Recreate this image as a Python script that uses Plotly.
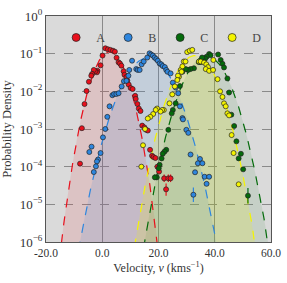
import numpy as np
import plotly.graph_objects as go

# ---------------- data ----------------
series_names = ["A", "B", "C", "D"]

a_v = [1.1, 2.0, 2.9, 3.8, 4.5, 0.1, 5.1, 5.8, 6.3, 6.8, 7.6, 7.9, 8.6, 8.9, 9.4, 10.1, 10.8, 11.7,
       11.9, 12.5, 13.0, 13.6, 14.2, 15.0, 15.6, 16.2, 17.0, 17.7, 18.2, 18.9, 19.6, 20.2, 22.0, 23.5,
       24.3, 22.7, -0.6, -1.7, -1.9, -2.5, -3.0, -3.6, -3.9, -4.75, -5.6, -6.3, -7.25, -7.9]
a_p = [0.139, 0.131, 0.126, 0.120, 0.113, 0.089, 0.078, 0.059, 0.055, 0.048, 0.034, 0.0275, 0.024,
       0.0195, 0.0151, 0.0123, 0.0115, 0.0076, 0.0063, 0.0046, 0.0035, 0.0030, 1.23e-3, 1.10e-3,
       9.5e-4, 9.1e-4, 2.8e-4, 1.95e-4, 1.8e-4, 1.7e-4, 1.0e-4, 7.4e-5, 4.9e-5, 4.9e-5, 4.9e-5,
       2.5e-5, 0.049, 0.035, 0.032, 0.034, 0.037, 0.029, 0.026, 0.018, 0.0102, 0.0046, 1.05e-3, 1.2e-4]
a_err_up = [0] * 32 + [1.3e-5, 1.3e-5, 1.3e-5, 1.1e-5] + [0] * 12
a_err_dn = [0] * 32 + [1.0e-5, 1.0e-5, 1.0e-5, 0.8e-5] + [0] * 12

b_v = [1.07, 0.25, -3.8, -4.6, -0.6, -1.5, -1.9, -2.25, -3.0, 1.8, 2.6, 3.6, 4.2, 5.0, 5.8, 6.9, 7.7,
       8.6, 9.3, 9.6, 10.6, 12.1, 12.6, 13.3, 14.0, 14.75, 16.0, 16.8, 17.4, 18.0, 18.6, 19.2, 19.75,
       20.4, 21.0, 21.5, 22.25, 22.75, 23.2, 24.3, 25.1, 26.1, 27.0, 27.6, 28.5, 28.7, 29.9, 30.6,
       31.4, 34.75, 34.0, 35.6, 33.0, 36.4, 38.0, 37.1, 32.4]
b_p = [1.0e-3, 6.0e-4, 3.4e-4, 2.45e-4, 2.3e-4, 1.55e-4, 1.38e-4, 1.02e-4, 7.2e-5, 2.1e-3, 4.0e-3,
       7.9e-3, 8.5e-3, 8.5e-3, 8.9e-3, 0.0135, 0.0186, 0.019, 0.026, 0.037, 0.065, 0.039, 0.037, 0.037,
       0.052, 0.062, 0.079, 0.102, 0.095, 0.089, 0.079, 0.072, 0.065, 0.055, 0.052, 0.047, 0.044, 0.037,
       0.033, 0.030, 0.017, 0.0126, 0.0089, 0.0040, 1.95e-3, 1.8e-3, 9.5e-4, 7.9e-4, 2.1e-4, 1.6e-4,
       1.23e-4, 1.23e-4, 7.1e-5, 5.4e-5, 5.4e-5, 3.5e-5, 1.8e-5]
b_err_up = [0] * 56 + [1.0e-5]
b_err_dn = [0] * 56 + [0.65e-5]

c_v = [38.0, 38.5, 37.1, 36.6, 36.0, 35.0, 34.3, 35.5, 41.2, 42.1, 42.75, 43.3, 44.5, 45.1, 45.9, 46.9,
       47.7, 49.3, 48.5, 50.1, 51.8, 32.6, 31.4, 30.5, 29.7, 28.5, 27.6, 26.1, 25.1, 24.7, 23.5, 22.75,
       22.1, 21.5, 21.1, 20.4, 20.1, 19.4, 18.7]
c_p = [0.098, 0.091, 0.083, 0.074, 0.065, 0.060, 0.060, 0.079, 0.095, 0.068, 0.054, 0.043, 0.022,
       0.0093, 0.0024, 0.0012, 4.7e-4, 2.2e-4, 1.66e-4, 8.5e-5, 1.7e-5, 0.041, 0.039, 0.037, 0.039,
       0.033, 0.0138, 0.0048, 0.0032, 0.0026, 9.5e-4, 2.8e-4, 2.5e-4, 2.2e-4, 1.66e-4, 1.12e-4, 9.1e-5,
       5.2e-5, 5.2e-5]
c_err_up = [0] * 20 + [1.0e-5] + [0] * 16 + [1.0e-5, 1.0e-5]
c_err_dn = [0] * 20 + [0.65e-5] + [0] * 16 + [0.8e-5, 0.8e-5]

d_v = [30.2, 31.1, 32.0, 29.0, 29.6, 27.9, 28.5, 28.2, 27.3, 26.9, 26.7, 34.4, 35.0, 36.2, 37.0, 37.6,
       36.8, 38.0, 39.4, 39.5, 41.0, 41.9, 42.75, 43.3, 43.9, 44.5, 45.1, 46.0, 46.7, 48.5, 25.8, 24.9,
       23.9, 21.9, 21.3, 20.7, 19.5, 19.0, 18.1, 17.1, 16.2, 15.2, 14.5, 13.9]
d_p = [0.110, 0.120, 0.126, 0.062, 0.062, 0.037, 0.046, 0.033, 0.0245, 0.026, 0.020, 0.062, 0.062,
       0.058, 0.052, 0.044, 0.039, 0.035, 0.037, 0.068, 0.021, 0.010, 0.0071, 0.0048, 0.0040, 0.0026,
       0.0023, 6.9e-4, 2.3e-4, 3.4e-5, 0.0135, 0.0083, 0.0048, 0.0032, 0.0032, 0.0029, 0.0035, 0.0032,
       0.0025, 0.0021, 0.0019, 1.0e-3, 3.7e-4, 1.0e-4]

# Gaussian fits drawn as dashed curves (fit parameters)
fit_mu = [2.6, 16.3, 37.0, 33.0]
fit_sigma = [3.55, 5.1, 4.6, 4.45]

x_ticks = [-20, 0, 20, 40, 60]
x_ticklabels = ["-20.0", "0.0", "20.0", "40.0", "60.0"]
y_tickexp = [-6, -5, -4, -3, -2, -1, 0]

# ---------------- styling ----------------
colors = ["#e8101c", "#2e86de", "#046b0b", "#f4f400"]
fills = ["rgba(240,30,40,0.12)", "rgba(46,134,222,0.13)",
         "rgba(4,107,11,0.09)", "rgba(244,244,0,0.17)"]
FONT = "Liberation Serif"

fig = go.Figure()

# fitted curves with fill down to the bottom of the axis
for i in range(4):
    mu, s = fit_mu[i], fit_sigma[i]
    xs = np.linspace(mu - 7.5 * s, mu + 7.5 * s, 300)
    ys = np.exp(-0.5 * ((xs - mu) / s) ** 2) / (s * np.sqrt(2 * np.pi))
    fx = np.concatenate([xs, [xs[-1], xs[0]]])
    fy = np.concatenate([ys, [1e-12, 1e-12]])
    fig.add_trace(go.Scatter(x=fx, y=fy, mode="none", fill="toself", fillcolor=fills[i],
                             showlegend=False, hoverinfo="skip"))
for i in range(4):
    mu, s = fit_mu[i], fit_sigma[i]
    xs = np.linspace(mu - 7.5 * s, mu + 7.5 * s, 300)
    ys = np.exp(-0.5 * ((xs - mu) / s) ** 2) / (s * np.sqrt(2 * np.pi))
    fig.add_trace(go.Scatter(x=xs, y=ys, mode="lines",
                             line=dict(color=colors[i], width=1.2, dash="dash"),
                             showlegend=False, hoverinfo="skip"))

data = [(a_v, a_p, a_err_up, a_err_dn), (b_v, b_p, b_err_up, b_err_dn),
        (c_v, c_p, c_err_up, c_err_dn), (d_v, d_p, None, None)]
for i, (vx, py, eu, ed) in enumerate(data):
    err = None
    if eu is not None:
        err = dict(type="data", symmetric=False, array=eu, arrayminus=ed,
                   color=colors[i], thickness=1.2, width=0)
    fig.add_trace(go.Scatter(x=vx, y=py, mode="markers", error_y=err,
                             marker=dict(color=colors[i], size=5,
                                         line=dict(color="#222", width=0.7)),
                             showlegend=False))

# legend entries
for i, name in enumerate(series_names):
    fig.add_trace(go.Scatter(x=[None], y=[None], mode="markers", name=name,
                             marker=dict(color=colors[i], size=8,
                                         line=dict(color="#222", width=0.7))))

fig.update_layout(
    width=287, height=283,
    margin=dict(l=46, r=16, t=16, b=41),
    paper_bgcolor="white", plot_bgcolor="#dadada",
    font=dict(family=FONT, size=12, color="#333"),
    legend=dict(orientation="h", x=0.045, y=0.905, xanchor="left", yanchor="middle",
                bgcolor="rgba(0,0,0,0)", entrywidth=7, entrywidthmode="pixels",
                font=dict(family=FONT, size=12, color="#444"), itemclick=False),
    xaxis=dict(range=[-20, 60], tickvals=x_ticks, ticktext=x_ticklabels,
               tickfont=dict(size=11.5), automargin=False,
               showgrid=True, gridcolor="#8a8a8a", gridwidth=1,
               zeroline=False, showline=True, linecolor="#555", linewidth=1, mirror=True,
               ticks="", title=dict(text="Velocity, <i>v</i> (kms<sup>−1</sup>)",
                                    font=dict(size=12), standoff=5)),
    yaxis=dict(type="log", range=[-6, 0], automargin=False,
               tickvals=[10.0 ** e for e in y_tickexp],
               ticktext=["10<sup>" + ("−" if e < 0 else "") + str(abs(e)) + "</sup>" for e in y_tickexp],
               tickfont=dict(size=13),
               showgrid=True, gridcolor="#8a8a8a", gridwidth=1, griddash="dash",
               zeroline=False, showline=True, linecolor="#555", linewidth=1, mirror=True,
               ticks="", title=dict(text="Probability Density", font=dict(size=12.5), standoff=12)),
)

fig.write_html("out.html", config={"displayModeBar": False},
               post_script="document.body.style.margin='0';")
